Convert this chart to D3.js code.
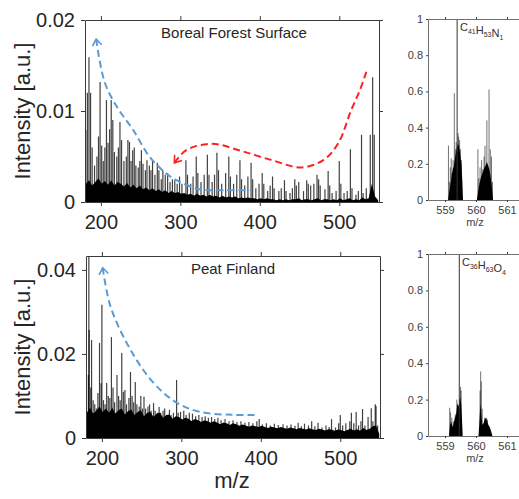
<!DOCTYPE html>
<html>
<head>
<meta charset="utf-8">
<script src="https://cdn.jsdelivr.net/npm/d3@7"></script>
<style>
    body { margin: 0; background: #fff; }
    svg { display: block; font-family: Arial, "Liberation Sans", sans-serif; }
</style>
</head>
<body>
<svg id="chart" width="519" height="499"></svg>
<script>
// ---- Boreal Forest Surface spectrum ----
const borealPeakMz = [181, 183, 185, 187, 189, 192, 195, 197, 199, 201, 203, 205, 207, 209, 211, 213, 215, 217, 220, 222,
    224, 226, 229, 232, 234, 236, 238, 240, 242, 244, 247, 249, 251, 253, 256, 258, 261, 263, 265, 268,
    271, 273, 276, 278, 281, 284, 287, 290, 293, 296, 299, 302, 307, 309, 313, 316, 320, 322, 326, 330,
    334, 336, 340, 343, 346, 348, 352, 357, 361, 363, 367, 371, 375, 377, 381, 385, 389, 391, 395, 399,
    403, 405, 410, 413, 416, 418, 424, 427, 431, 433, 438, 441, 444, 446, 449, 455, 459, 461, 464, 468,
    472, 474, 476, 482, 486, 488, 491, 496, 500, 502, 506, 510, 514, 516, 521, 524, 528, 530, 534, 539, 542, 544];
const borealPeakInt = [0.0079, 0.0120, 0.0159, 0.0120, 0.0060, 0.0040, 0.0050, 0.0072, 0.0132, 0.0062, 0.0045, 0.0060, 0.0112, 0.0065, 0.0080, 0.0112, 0.0090, 0.0055, 0.0050, 0.0060,
    0.0088, 0.0068, 0.0045, 0.0050, 0.0068, 0.0066, 0.0045, 0.0057, 0.0060, 0.0040, 0.0038, 0.0045, 0.0057, 0.0042, 0.0035, 0.0046, 0.0040, 0.0035, 0.0046, 0.0030,
    0.0043, 0.0035, 0.0025, 0.0035, 0.0030, 0.0032, 0.0022, 0.0025, 0.0024, 0.0020, 0.0028, 0.0020, 0.0046, 0.0030, 0.0020, 0.0028, 0.0050, 0.0032, 0.0022, 0.0030,
    0.0052, 0.0030, 0.0022, 0.0030, 0.0054, 0.0035, 0.0020, 0.0032, 0.0050, 0.0028, 0.0020, 0.0030, 0.0046, 0.0025, 0.0018, 0.0028, 0.0043, 0.0025, 0.0015, 0.0020,
    0.0032, 0.0020, 0.0012, 0.0018, 0.0028, 0.0015, 0.0012, 0.0015, 0.0024, 0.0012, 0.0010, 0.0015, 0.0025, 0.0018, 0.0022, 0.0012, 0.0024, 0.0020, 0.0018, 0.0020,
    0.0030, 0.0025, 0.0018, 0.0014, 0.0034, 0.0018, 0.0010, 0.0012, 0.0045, 0.0020, 0.0010, 0.0012, 0.0058, 0.0015, 0.0008, 0.0012, 0.0074, 0.0010, 0.0015, 0.0074, 0.0137, 0.0074];
const borealBaseMz = [181, 185, 189, 193, 197, 201, 205, 209, 213, 217, 221, 225, 229, 233, 237, 241, 245, 249, 253, 257,
    261, 265, 269, 273, 277, 281, 285, 289, 293, 297, 301, 305, 309, 313, 317, 321, 325, 329, 333, 337,
    341, 345, 349, 353, 357, 361, 365, 369, 373, 377, 381, 385, 389, 393, 397, 401, 405, 409, 413, 417,
    421, 425, 429, 433, 437, 441, 445, 449, 453, 457, 461, 465, 469, 473, 477, 481, 485, 489, 493, 497,
    501, 505, 509, 513, 517, 521, 525, 529, 533, 537, 541, 545, 549];
const borealBaseInt = [0.0020, 0.0024, 0.0018, 0.0022, 0.0026, 0.0020, 0.0023, 0.0019, 0.0024, 0.0018, 0.0022, 0.0020, 0.0017, 0.0021, 0.0016, 0.0019, 0.0015, 0.0018, 0.0014, 0.0016,
    0.0013, 0.0015, 0.0012, 0.0014, 0.0011, 0.0013, 0.0010, 0.0012, 0.0010, 0.0011, 0.0009, 0.0010, 0.0008, 0.0009, 0.0007, 0.0009, 0.0007, 0.0008, 0.0006, 0.0008,
    0.0006, 0.0007, 0.0005, 0.0007, 0.0005, 0.0006, 0.0005, 0.0006, 0.0004, 0.0005, 0.0004, 0.0005, 0.0004, 0.0004, 0.0003, 0.0004, 0.0003, 0.0004, 0.0003, 0.0003,
    0.0002, 0.0003, 0.0002, 0.0003, 0.0002, 0.0003, 0.0003, 0.0004, 0.0002, 0.0003, 0.0003, 0.0002, 0.0003, 0.0004, 0.0002, 0.0003, 0.0003, 0.0002, 0.0003, 0.0002,
    0.0004, 0.0002, 0.0003, 0.0004, 0.0002, 0.0003, 0.0002, 0.0005, 0.0003, 0.0004, 0.0020, 0.0006, 0.0002];
// dashed guide curves (m/z, intensity)
const borealBlueMz = [194, 205, 222, 240, 261, 280, 295, 324, 355, 390];
const borealBlueInt = [0.0179, 0.0131, 0.0102, 0.0080, 0.0050, 0.0033, 0.0024, 0.0014, 0.0013, 0.0013];
const borealRedMz = [292.5, 307.5, 340, 377, 415, 452, 480, 499, 515, 526, 534];
const borealRedInt = [0.0043, 0.0057, 0.0064, 0.0056, 0.0046, 0.0038, 0.0046, 0.0065, 0.0101, 0.0123, 0.0143];

// ---- Peat Finland spectrum ----
const peatPeakMz = [183, 183.6, 184, 186, 187, 189, 191, 193, 195, 197, 199, 200, 202, 204, 206, 208, 210, 212, 214, 216,
    219, 221, 223, 225, 227, 229, 231, 234, 236, 238, 240, 242, 244, 247, 249, 251, 253, 255, 258, 260,
    262, 265, 267, 270, 272, 274, 277, 279, 282, 285, 287, 290, 294, 296, 299, 303, 306, 310, 314, 318,
    322, 326, 330, 334, 338, 342, 346, 350, 355, 360, 365, 370, 375, 380, 385, 390, 395, 398, 402, 407,
    412, 417, 422, 428, 433, 438, 443, 447, 451, 455, 460, 464, 468, 472, 477, 482, 486, 489, 494, 498,
    500, 503, 507, 512, 514, 517, 520, 523, 526, 528, 531, 535, 539, 541, 544, 545, 547];
const peatPeakInt = [0.0150, 0.0460, 0.0257, 0.0120, 0.0233, 0.0090, 0.0080, 0.0070, 0.0107, 0.0226, 0.0130, 0.0317, 0.0090, 0.0080, 0.0131, 0.0100, 0.0095, 0.0240, 0.0120, 0.0085,
    0.0150, 0.0100, 0.0090, 0.0202, 0.0110, 0.0114, 0.0080, 0.0095, 0.0157, 0.0100, 0.0085, 0.0133, 0.0080, 0.0075, 0.0100, 0.0070, 0.0098, 0.0070, 0.0075, 0.0080,
    0.0065, 0.0083, 0.0065, 0.0060, 0.0074, 0.0060, 0.0065, 0.0070, 0.0055, 0.0067, 0.0055, 0.0060, 0.0138, 0.0060, 0.0062, 0.0065, 0.0055, 0.0060, 0.0058, 0.0052,
    0.0055, 0.0050, 0.0052, 0.0048, 0.0050, 0.0045, 0.0048, 0.0042, 0.0045, 0.0040, 0.0042, 0.0038, 0.0040, 0.0036, 0.0038, 0.0035, 0.0040, 0.0045, 0.0032, 0.0035,
    0.0030, 0.0034, 0.0031, 0.0033, 0.0030, 0.0032, 0.0029, 0.0036, 0.0028, 0.0034, 0.0030, 0.0040, 0.0028, 0.0036, 0.0025, 0.0030, 0.0026, 0.0045, 0.0025, 0.0035,
    0.0055, 0.0030, 0.0035, 0.0040, 0.0060, 0.0035, 0.0062, 0.0030, 0.0040, 0.0069, 0.0030, 0.0050, 0.0071, 0.0040, 0.0080, 0.0076, 0.0030];
const peatBaseMz = borealBaseMz;
const peatBaseInt = [0.0060, 0.0072, 0.0058, 0.0065, 0.0075, 0.0062, 0.0070, 0.0060, 0.0072, 0.0058, 0.0066, 0.0070, 0.0056, 0.0064, 0.0068, 0.0055, 0.0062, 0.0066, 0.0052, 0.0060,
    0.0062, 0.0050, 0.0058, 0.0060, 0.0048, 0.0055, 0.0056, 0.0046, 0.0052, 0.0050, 0.0044, 0.0048, 0.0046, 0.0040, 0.0045, 0.0042, 0.0038, 0.0042, 0.0040, 0.0036,
    0.0040, 0.0037, 0.0033, 0.0037, 0.0035, 0.0031, 0.0035, 0.0033, 0.0029, 0.0032, 0.0030, 0.0027, 0.0030, 0.0028, 0.0026, 0.0029, 0.0026, 0.0024, 0.0027, 0.0025,
    0.0023, 0.0026, 0.0024, 0.0022, 0.0025, 0.0023, 0.0021, 0.0024, 0.0022, 0.0020, 0.0023, 0.0021, 0.0019, 0.0022, 0.0020, 0.0018, 0.0021, 0.0020, 0.0017, 0.0020,
    0.0019, 0.0016, 0.0019, 0.0022, 0.0018, 0.0021, 0.0017, 0.0024, 0.0019, 0.0022, 0.0028, 0.0030, 0.0010];
const peatBlueMz = [201, 211, 236, 265, 295, 324, 365, 395];
const peatBlueInt = [0.0405, 0.0312, 0.0210, 0.0131, 0.0083, 0.0062, 0.0055, 0.0055];

// ---- isotope fine structure panels ----
const isoTicks = [559, 560, 561];
const isoYTicks = [0, 0.2, 0.4, 0.6, 0.8, 1];
const topIsoFormulaMz = 559.39;
const topIsoFillMz = [559.10, 559.13, 559.17, 559.21, 559.25, 559.29, 559.33, 559.37, 559.41, 559.45, 559.49, 559.53, 559.56, 559.58,
    560.03, 560.07, 560.11, 560.15, 560.19, 560.23, 560.27, 560.31, 560.35, 560.39, 560.43, 560.47, 560.51, 560.55];
const topIsoFillInt = [0, 0.04, 0.08, 0.13, 0.17, 0.19, 0.24, 0.28, 0.31, 0.30, 0.25, 0.19, 0.10, 0,
    0, 0.05, 0.09, 0.12, 0.14, 0.16, 0.18, 0.19, 0.21, 0.19, 0.17, 0.13, 0.07, 0];
const topIsoStickMz = [559.11, 559.14, 559.17, 559.20, 559.23, 559.26, 559.30, 559.33, 559.36, 559.42, 559.44, 559.47, 559.50, 559.53,
    560.06, 560.09, 560.13, 560.18, 560.22, 560.26, 560.29, 560.35, 560.42, 560.46, 560.50, 560.53];
const topIsoStickInt = [0.30, 0.10, 0.18, 0.23, 0.15, 0.22, 0.59, 0.28, 0.32, 0.37, 0.35, 0.33, 0.28, 0.22,
    0.28, 0.12, 0.18, 0.22, 0.17, 0.24, 0.30, 0.44, 0.61, 0.28, 0.24, 0.10];

const botIsoFormulaMz = 559.46;
const botIsoFillMz = [559.13, 559.16, 559.20, 559.24, 559.28, 559.32, 559.36, 559.40, 559.44, 559.48, 559.52, 559.55, 559.57,
    560.08, 560.11, 560.14, 560.17, 560.20, 560.24, 560.28, 560.32, 560.36, 560.40, 560.44, 560.48, 560.53];
const botIsoFillInt = [0, 0.06, 0.08, 0.05, 0.07, 0.10, 0.12, 0.18, 0.16, 0.22, 0.18, 0.08, 0,
    0, 0.08, 0.18, 0.12, 0.06, 0.07, 0.09, 0.10, 0.08, 0.06, 0.05, 0.03, 0];
const botIsoStickMz = [559.15, 559.18, 559.22, 559.27, 559.33, 559.38, 559.42, 559.50, 559.52,
    560.13, 560.15, 560.17, 560.20, 560.28, 560.33, 560.37];
const botIsoStickInt = [0.155, 0.13, 0.10, 0.08, 0.12, 0.20, 0.17, 0.27, 0.25,
    0.25, 0.355, 0.30, 0.15, 0.10, 0.10, 0.09];

const TEXT = '#262626';
const FRAME = '#3a3a3a';
const svg = d3.select('#chart');
svg.append('rect').attr('width', 519).attr('height', 499).attr('fill', '#fff');

const zip = (a, b) => a.map((v, i) => ({ x: v, y: b[i] }));

/**
 * Style a d3 axis group: frame colour, label font
 */
function styleAxis(g, size, color) {
    g.selectAll('path, line').attr('stroke', FRAME).attr('stroke-width', 1);
    g.selectAll('text').attr('fill', color).style('font-size', size + 'px');
}

/**
 * Dashed guide curve with an open arrowhead at its first point
 */
function drawArrow(g, x, y, mz, val, color) {
    const path = g.append('path')
        .datum(zip(mz, val))
        .attr('d', d3.line().x(d => x(d.x)).y(d => y(d.y)).curve(d3.curveCatmullRom.alpha(0.5)))
        .attr('fill', 'none')
        .attr('stroke', color)
        .attr('stroke-width', 2)
        .attr('stroke-dasharray', '7,4');

    const node = path.node();
    const p0 = node.getPointAtLength(0);
    const p1 = node.getPointAtLength(7);
    const ang = Math.atan2(p1.y - p0.y, p1.x - p0.x);
    const arm = 8;
    const a1 = ang + Math.PI / 5, a2 = ang - Math.PI / 5;
    g.append('path')
        .attr('d', `M${p0.x + arm * Math.cos(a1)},${p0.y + arm * Math.sin(a1)}L${p0.x},${p0.y}L${p0.x + arm * Math.cos(a2)},${p0.y + arm * Math.sin(a2)}`)
        .attr('fill', 'none')
        .attr('stroke', color)
        .attr('stroke-width', 1.6);
}

/**
 * Left panels: full m/z range spectrum
 */
function drawSpectrum(cfg) {
    const { left, right, top, bottom } = cfg.box;
    const x = d3.scaleLinear().domain([180, 550]).range([left, right]);
    const y = d3.scaleLinear().domain(cfg.yDomain).range([bottom, top]);
    const g = svg.append('g');

    g.append('clipPath').attr('id', 'clip-' + cfg.id)
        .append('rect')
        .attr('x', left).attr('y', top)
        .attr('width', right - left).attr('height', bottom - top);
    const plot = g.append('g').attr('clip-path', `url(#clip-${cfg.id})`);

    // dense low-level signal
    plot.append('path')
        .datum(zip(cfg.baseMz, cfg.baseInt))
        .attr('d', d3.area().x(d => x(d.x)).y0(y(0)).y1(d => y(d.y)))
        .attr('fill', '#000');

    // individual peaks
    plot.selectAll('line.stick')
        .data(zip(cfg.peakMz, cfg.peakInt))
        .enter()
        .append('line')
        .attr('class', 'stick')
        .attr('x1', d => x(d.x)).attr('x2', d => x(d.x))
        .attr('y1', y(0)).attr('y2', d => y(d.y))
        .attr('stroke', '#000')
        .attr('stroke-width', 1.2)
        .attr('stroke-opacity', 0.75);

    cfg.arrows.forEach(a => drawArrow(plot, x, y, a.mz, a.val, a.color));

    // box with outward ticks on all sides
    const xt = [200, 300, 400, 500];
    styleAxis(g.append('g').attr('transform', `translate(0,${bottom})`)
        .call(d3.axisBottom(x).tickValues(xt).tickSize(4).tickSizeOuter(0).tickPadding(9)), 20, TEXT);
    styleAxis(g.append('g').attr('transform', `translate(0,${top})`)
        .call(d3.axisTop(x).tickValues(xt).tickSize(4).tickSizeOuter(0).tickFormat('')), 20, TEXT);
    styleAxis(g.append('g').attr('transform', `translate(${left},0)`)
        .call(d3.axisLeft(y).tickValues(cfg.yTicks).tickSize(4).tickSizeOuter(0).tickPadding(6)
            .tickFormat(d => d === 0 ? '0' : d3.format('.2f')(d))), 20, TEXT);
    styleAxis(g.append('g').attr('transform', `translate(${right},0)`)
        .call(d3.axisRight(y).tickValues(cfg.yTicks).tickSize(4).tickSizeOuter(0).tickFormat('')), 20, TEXT);
    g.selectAll('.domain').attr('fill', 'none');

    // sample title
    g.append('text')
        .attr('x', cfg.titleX).attr('y', top + 18)
        .attr('text-anchor', 'middle')
        .attr('fill', TEXT)
        .style('font-size', '15px')
        .text(cfg.title);

    // Y axis label
    g.append('text')
        .attr('transform', `translate(30,${(top + bottom) / 2}) rotate(-90)`)
        .attr('text-anchor', 'middle')
        .attr('fill', TEXT)
        .style('font-size', '22px')
        .text('Intensity [a.u.]');
}

/**
 * Right panels: zoom on the isotope fine structure near m/z 559-561
 */
function drawIsotope(cfg) {
    const left = 428, right = 538;
    const x = d3.scaleLinear().domain([558.45, 562]).range([left, right]);
    const y = d3.scaleLinear().domain([0, 1]).range([cfg.bottom, cfg.top]);
    const g = svg.append('g');

    g.append('path')
        .datum(zip(cfg.fillMz, cfg.fillInt))
        .attr('d', d3.area().x(d => x(d.x)).y0(y(0)).y1(d => y(d.y)))
        .attr('fill', '#000');

    g.selectAll('line.iso')
        .data(zip(cfg.stickMz, cfg.stickInt))
        .enter()
        .append('line')
        .attr('class', 'iso')
        .attr('x1', d => x(d.x)).attr('x2', d => x(d.x))
        .attr('y1', y(0)).attr('y2', d => y(d.y))
        .attr('stroke', '#000')
        .attr('stroke-width', 0.8)
        .attr('stroke-opacity', 0.7);

    // assigned formula position
    g.append('line')
        .attr('x1', x(cfg.formulaMz)).attr('x2', x(cfg.formulaMz))
        .attr('y1', y(0)).attr('y2', y(1))
        .attr('stroke', '#333')
        .attr('stroke-width', 1);

    styleAxis(g.append('g').attr('transform', `translate(0,${cfg.bottom})`)
        .call(d3.axisBottom(x).tickValues(isoTicks).tickSize(2).tickSizeOuter(0).tickPadding(4)
            .tickFormat(d3.format('d'))), 11, '#404040');
    styleAxis(g.append('g').attr('transform', `translate(0,${cfg.top})`)
        .call(d3.axisTop(x).tickValues(isoTicks).tickSize(2).tickSizeOuter(0).tickFormat('')), 11, '#404040');
    styleAxis(g.append('g').attr('transform', `translate(${left},0)`)
        .call(d3.axisLeft(y).tickValues(isoYTicks).tickSize(2).tickSizeOuter(0).tickPadding(3)
            .tickFormat(d3.format('~g'))), 11, '#404040');
    g.selectAll('.domain').attr('fill', 'none').attr('stroke', '#707070');

    g.append('text')
        .attr('x', 475).attr('y', cfg.bottom + 26)
        .attr('text-anchor', 'middle')
        .attr('fill', '#404040')
        .style('font-size', '11px')
        .text('m/z');

    // chemical formula with subscripts
    const label = g.append('text')
        .attr('x', cfg.formulaX).attr('y', cfg.top + 12)
        .attr('fill', '#303030')
        .style('font-size', '11px');
    cfg.formula.forEach(([s, isSub]) => {
        label.append('tspan')
            .attr('dy', isSub ? 3 : 0)
            .style('font-size', isSub ? '7px' : '11px')
            .text(s);
        if (isSub) label.append('tspan').attr('dy', -3).text('');
    });
}

drawSpectrum({
    id: 'boreal',
    box: { left: 85, right: 379, top: 20, bottom: 202 },
    yDomain: [0, 0.02],
    yTicks: [0, 0.01, 0.02],
    peakMz: borealPeakMz, peakInt: borealPeakInt,
    baseMz: borealBaseMz, baseInt: borealBaseInt,
    title: 'Boreal Forest Surface', titleX: 234,
    arrows: [
        { mz: borealBlueMz, val: borealBlueInt, color: '#5b9bd5' },
        { mz: borealRedMz, val: borealRedInt, color: '#ff2020' }
    ]
});

drawSpectrum({
    id: 'peat',
    box: { left: 86, right: 380, top: 256, bottom: 438 },
    yDomain: [0, 0.0433],
    yTicks: [0, 0.02, 0.04],
    peakMz: peatPeakMz, peakInt: peatPeakInt,
    baseMz: peatBaseMz, baseInt: peatBaseInt,
    title: 'Peat Finland', titleX: 233,
    arrows: [
        { mz: peatBlueMz, val: peatBlueInt, color: '#5b9bd5' }
    ]
});

// shared x label
svg.append('text')
    .attr('x', 232).attr('y', 488)
    .attr('text-anchor', 'middle')
    .attr('fill', TEXT)
    .style('font-size', '22px')
    .text('m/z');

drawIsotope({
    top: 19, bottom: 200,
    fillMz: topIsoFillMz, fillInt: topIsoFillInt,
    stickMz: topIsoStickMz, stickInt: topIsoStickInt,
    formulaMz: topIsoFormulaMz,
    formulaX: 460,
    formula: [['C', false], ['41', true], ['H', false], ['53', true], ['N', false], ['1', true]]
});

drawIsotope({
    top: 254, bottom: 436,
    fillMz: botIsoFillMz, fillInt: botIsoFillInt,
    stickMz: botIsoStickMz, stickInt: botIsoStickInt,
    formulaMz: botIsoFormulaMz,
    formulaX: 462,
    formula: [['C', false], ['36', true], ['H', false], ['63', true], ['O', false], ['4', true]]
});
</script>
</body>
</html>
